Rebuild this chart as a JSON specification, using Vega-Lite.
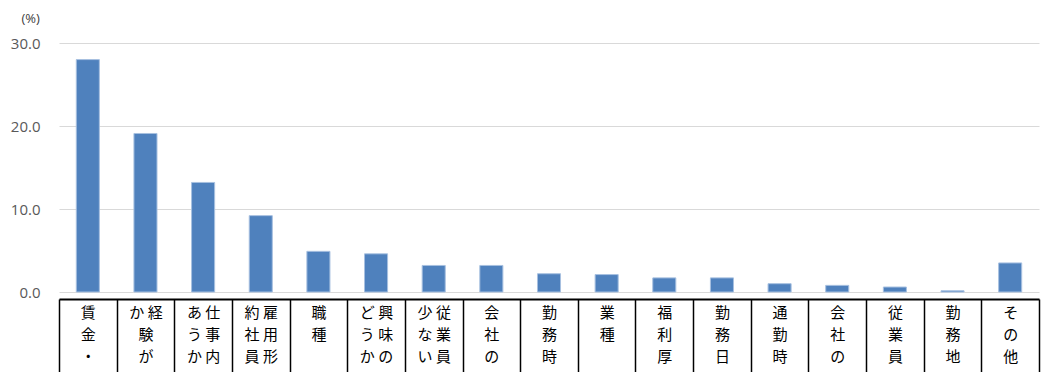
{
  "$schema": "https://vega.github.io/schema/vega-lite/v6.json",
  "width": 980,
  "height": 249,
  "autosize": "none",
  "padding": {"left": 59, "top": 43, "right": 9, "bottom": 80},
  "background": "white",
  "config": {"view": {"stroke": null}},
  "data": {
    "values": [
      {"item": "賃|金|・", "pct": 28.0},
      {"item": "か 経|　 験|　 が", "pct": 19.1},
      {"item": "あ 仕|う 事|か 内", "pct": 13.2},
      {"item": "約 雇|社 用|員 形", "pct": 9.2},
      {"item": "職|種", "pct": 4.9},
      {"item": "ど 興|う 味|か の", "pct": 4.6},
      {"item": "少 従|な 業|い 員", "pct": 3.2},
      {"item": "会|社|の", "pct": 3.2},
      {"item": "勤|務|時", "pct": 2.2},
      {"item": "業|種", "pct": 2.1},
      {"item": "福|利|厚", "pct": 1.7},
      {"item": "勤|務|日", "pct": 1.7},
      {"item": "通|勤|時", "pct": 1.0},
      {"item": "会|社|の|", "pct": 0.8},
      {"item": "従|業|員", "pct": 0.6},
      {"item": "勤|務|地", "pct": 0.15},
      {"item": "そ|の|他", "pct": 3.5}
    ]
  },
  "mark": {"type": "bar", "width": {"band": 0.4}, "color": "#4f81bd", "stroke": "#a7c0e0", "strokeWidth": 1},
  "encoding": {
    "x": {
      "field": "item",
      "type": "nominal",
      "sort": null,
      "scale": {"paddingInner": 0, "paddingOuter": 0},
      "axis": {
        "title": null,
        "labelAngle": 0,
        "labelExpr": "isValid(datum.value) ? split(datum.value, '|') : ''",
        "labelFont": "Noto Sans CJK JP",
        "labelFontSize": 15,
        "labelLineHeight": 22,
        "labelColor": "black",
        "labelBaseline": "top",
        "labelPadding": -69,
        "labelLimit": 0,
        "tickBand": "extent",
        "tickSize": 75,
        "tickColor": "black",
        "tickWidth": 1.5,
        "domainColor": "black",
        "domainWidth": 2,
        "offset": 7
      }
    },
    "y": {
      "field": "pct",
      "type": "quantitative",
      "scale": {"domain": [0, 30]},
      "axis": {
        "values": [0, 10, 20, 30],
        "format": ".1f",
        "title": "(%)",
        "titleAngle": 0,
        "titleX": -38,
        "titleY": -25,
        "titleAlign": "left",
        "titleBaseline": "middle",
        "titleFont": "Open Sans",
        "titleFontSize": 13,
        "titleFontWeight": "normal",
        "titleColor": "#404040",
        "domain": false,
        "ticks": false,
        "gridColor": "#d9d9d9",
        "gridWidth": 1,
        "labelPadding": 19,
        "labelFont": "Open Sans",
        "labelFontSize": 15,
        "labelColor": "#595959"
      }
    }
  }
}
